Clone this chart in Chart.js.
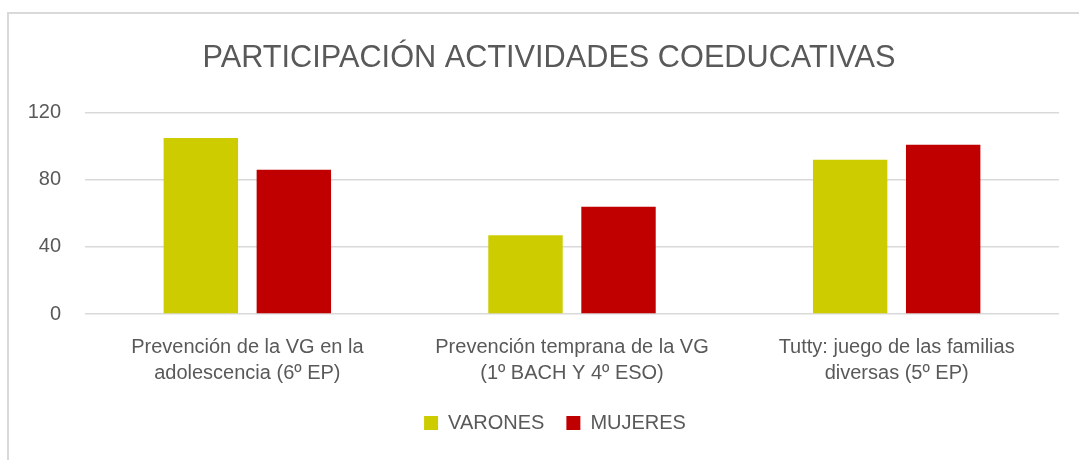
<!DOCTYPE html>
<html>
<head>
<meta charset="utf-8">
<script src="https://cdn.jsdelivr.net/npm/chart.js@4.4.1/dist/chart.umd.min.js"></script>
<style>
  html, body { margin: 0; padding: 0; background: #ffffff; overflow: hidden; }
  #frame { position: absolute; left: 7px; top: 12px; width: 1200px; height: 600px; border: 2px solid #d9d9d9; box-sizing: border-box; }
  #wrap { position: absolute; left: 0; top: 0; width: 1079px; height: 460px; }
</style>
</head>
<body>
<div id="frame"></div>
<div id="wrap"><canvas id="c" width="1079" height="460"></canvas></div>
<script>
const chartTitle = "PARTICIPACIÓN ACTIVIDADES COEDUCATIVAS";
const categories = [
  ["Prevención de la VG en la", "adolescencia (6º EP)"],
  ["Prevención temprana de la VG", "(1º BACH Y 4º ESO)"],
  ["Tutty: juego de las familias", "diversas (5º EP)"]
];
const seriesNames = ["VARONES", "MUJERES"];
const varones = [105, 47, 92];
const mujeres = [86, 64, 101];
const yTicks = [0, 40, 80, 120];

const textColor = "#595959";
const fontFamily = "'Liberation Sans', Arial, sans-serif";
const padLeft = 5;

// Re-centre the title and legend boxes (the reference centres them slightly right of the canvas middle)
const shiftBoxes = {
  id: "shiftBoxes",
  afterLayout(chart) {
    const t = chart.titleBlock;
    if (t) { t.left += 34; }
    const l = chart.legend;
    if (l) { l.left += 46; }
  }
};

new Chart(document.getElementById("c"), {
  type: "bar",
  data: {
    labels: categories,
    datasets: [
      { label: seriesNames[0], data: varones, backgroundColor: "#cccc00", borderWidth: 0 },
      { label: seriesNames[1], data: mujeres, backgroundColor: "#c00000", borderWidth: 0 }
    ]
  },
  options: {
    responsive: false,
    animation: false,
    devicePixelRatio: 1,
    layout: { padding: { left: padLeft, right: 20, top: 40, bottom: 17 } },
    datasets: { bar: { categoryPercentage: 0.573, barPercentage: 0.8 } },
    plugins: {
      title: {
        display: true,
        text: chartTitle,
        color: textColor,
        font: { family: fontFamily, size: 30.7, weight: "normal" },
        padding: { top: 0, bottom: 36 }
      },
      legend: {
        position: "bottom",
        labels: {
          color: textColor,
          font: { family: fontFamily, size: 20 },
          boxWidth: 14,
          boxHeight: 14,
          padding: 22
        }
      },
      tooltip: { enabled: false }
    },
    scales: {
      x: {
        grid: { display: false, drawTicks: false },
        border: { display: false },
        ticks: {
          color: textColor,
          font: { family: fontFamily, size: 20, lineHeight: 1.3 },
          padding: 20,
          maxRotation: 0,
          autoSkip: false
        },
        afterFit: (scale) => { scale.height -= 15; }
      },
      y: {
        min: 0,
        max: 120,
        afterBuildTicks: (scale) => { scale.ticks = yTicks.map(v => ({ value: v })); },
        afterFit: (scale) => { scale.width = 85 - padLeft; },
        grid: { color: "#d9d9d9", lineWidth: 1.5, drawTicks: false },
        border: { display: false },
        ticks: {
          color: textColor,
          font: { family: fontFamily, size: 20 },
          padding: 24
        }
      }
    }
  },
  plugins: [shiftBoxes]
});
</script>
</body>
</html>
